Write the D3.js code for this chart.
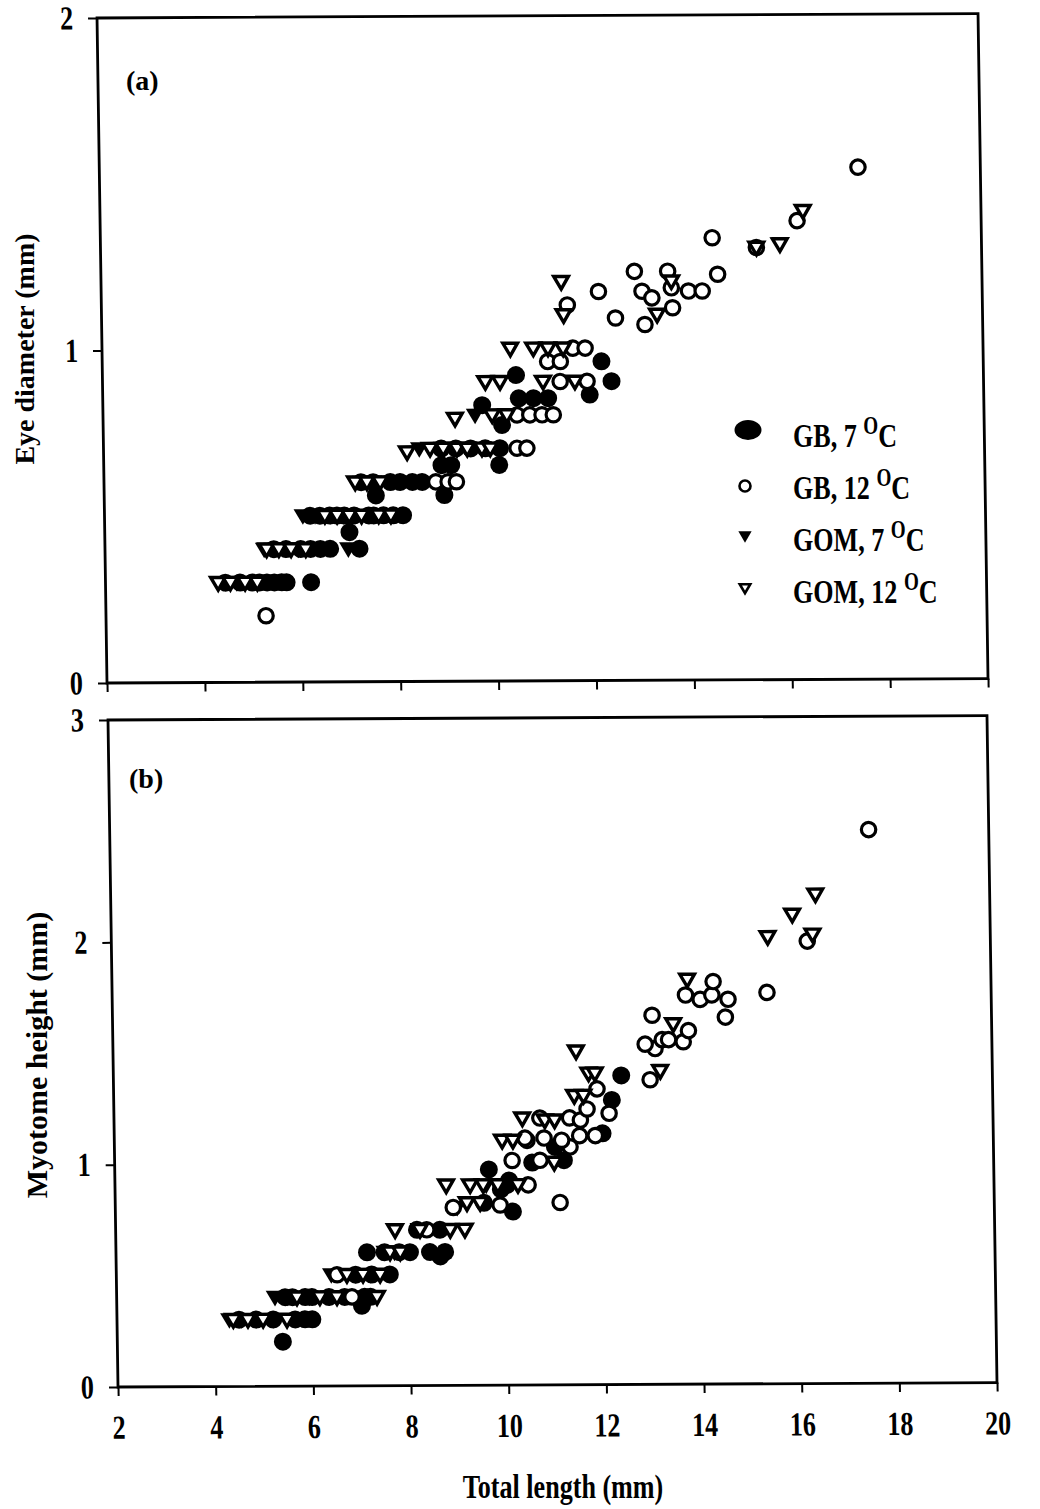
<!DOCTYPE html>
<html>
<head>
<meta charset="utf-8">
<script src="https://cdn.jsdelivr.net/npm/d3@7"></script>
<style>
  body { margin: 0; background: #fff; }
  svg { display: block; }
</style>
</head>
<body>
<div id="chart"></div>
<script>
// Axis ticks
var xTicks = [2, 4, 6, 8, 10, 12, 14, 16, 18, 20];
var yTicksEye = [0, 1, 2];
var yTicksMyo = [0, 1, 2, 3];

// Legend
var seriesLabels = ["GB, 7 ", "GB, 12 ", "GOM, 7 ", "GOM, 12 "];

// (a) Eye diameter (mm) vs total length (mm)
var eyeGB7 = [
    [4.45,0.3],[4.75,0.3],[5.0,0.3],
    [5.15,0.3],[5.3,0.3],[5.45,0.3],[5.6,0.3],[5.7,0.3],[6.2,0.3],
    [5.45,0.4],[5.7,0.4],[6.0,0.4],
    [6.2,0.4],[6.4,0.4],[6.6,0.4],[7.2,0.4],[7.0,0.45],
    [6.4,0.5],[6.75,0.5],[7.1,0.5],[7.5,0.5],
    [6.2,0.5],[6.6,0.5],[6.9,0.5],[7.4,0.5],[7.7,0.5],[7.9,0.5],[8.1,0.5],
    [7.55,0.56],[8.95,0.56],
    [7.25,0.6],[7.5,0.6],
    [7.85,0.6],[8.05,0.6],[8.3,0.6],[8.5,0.6],
    [8.9,0.65],[9.1,0.65],[10.08,0.65],
    [8.9,0.7],[9.2,0.7],[9.5,0.7],[9.8,0.7],[10.1,0.7],
    [10.15,0.77],[9.75,0.83],
    [10.5,0.85],[10.8,0.85],[11.1,0.85],
    [10.45,0.92],[11.95,0.86],[12.4,0.9],[12.2,0.96]
];
var eyeGB12 = [
    [5.27,0.2],
    [8.78,0.6],[9.03,0.6],[9.2,0.6],
    [10.45,0.7],[10.65,0.7],
    [10.46,0.8],[10.72,0.8],[10.97,0.8],[11.2,0.8],
    [11.35,0.9],[11.9,0.9],
    [11.1,0.96],[11.36,0.96],
    [11.62,1.0],[11.87,1.0],
    [11.52,1.13],[12.16,1.17],[12.5,1.09],
    [12.9,1.23],[13.05,1.17],[13.1,1.07],[13.25,1.15],[13.58,1.23],[13.65,1.18],[13.67,1.12],
    [14.0,1.17],[14.28,1.17],[14.5,1.33],[14.6,1.22],
    [15.4,1.3],[16.24,1.38],[17.5,1.54]
];
var eyeGOM7 = [
    [4.4,0.3],[4.68,0.3],[4.97,0.3],
    [5.25,0.4],[5.42,0.4],[5.68,0.4],[5.95,0.4],[6.97,0.4],
    [6.05,0.5],[6.3,0.5],[6.62,0.5],[6.88,0.5],[7.12,0.5],[7.45,0.5],
    [7.25,0.6],[7.5,0.6],[8.45,0.7],[9.6,0.8]
];
var eyeGOM12 = [
    [4.3,0.3],[4.55,0.3],[4.85,0.3],[5.1,0.3],
    [5.3,0.4],[5.55,0.4],[5.8,0.4],[6.1,0.4],
    [6.5,0.5],[6.75,0.5],[7.0,0.5],[7.25,0.5],[7.6,0.5],[7.85,0.5],
    [7.13,0.6],[7.37,0.6],[7.64,0.6],
    [8.2,0.69],[8.67,0.7],[8.94,0.7],[9.22,0.7],[9.43,0.7],[9.73,0.7],[9.9,0.7],
    [9.19,0.79],[9.95,0.8],[10.25,0.8],
    [9.82,0.9],[10.12,0.9],[11.0,0.9],[11.65,0.9],
    [10.34,1.0],[10.81,1.0],[11.11,1.0],[11.42,1.0],
    [11.44,1.1],[11.4,1.2],[13.35,1.1],[13.65,1.2],
    [15.4,1.3],[15.88,1.31],[16.36,1.41]
];

// (b) Myotome height (mm) vs total length (mm)
var myoGB7 = [
    [5.39,0.2],
    [4.5,0.3],[4.85,0.3],[5.2,0.3],
    [5.65,0.3],[5.85,0.3],[6.0,0.3],
    [5.6,0.4],[6.0,0.4],[6.35,0.4],[7.2,0.4],
    [5.45,0.4],[5.86,0.4],[6.67,0.4],[7.08,0.4],[7.02,0.36],
    [6.9,0.5],[7.23,0.5],[7.6,0.5],
    [7.5,0.6],[7.8,0.6],
    [7.14,0.6],[8.02,0.6],[8.43,0.6],[8.74,0.6],[8.64,0.58],
    [8.17,0.7],[8.64,0.7],
    [9.55,0.82],[9.9,0.88],
    [10.14,0.78],[10.03,0.9],[10.07,0.92],[9.66,0.97],
    [10.55,1.0],[11.2,1.01],[11.02,1.07],
    [12.0,1.13],[12.2,1.28],[12.4,1.39]
];
var myoGB12 = [
    [6.52,0.5],[6.82,0.4],
    [8.37,0.7],[8.92,0.8],[9.88,0.81],[11.11,0.82],
    [10.46,0.9],
    [10.14,1.01],[10.71,1.01],[11.33,1.07],
    [10.45,1.1],[11.16,1.1],[10.41,1.11],[10.8,1.11],
    [11.53,1.12],[11.85,1.12],
    [10.72,1.2],[11.33,1.2],[11.55,1.19],
    [11.69,1.24],[12.14,1.22],
    [11.9,1.33],[12.99,1.37],
    [13.1,1.51],[12.9,1.53],[13.25,1.55],[13.38,1.55],[13.68,1.54],[13.79,1.59],
    [13.05,1.66],[14.55,1.65],
    [14.04,1.73],[14.61,1.73],[14.28,1.75],[13.74,1.75],[14.31,1.81],
    [15.41,1.76],[16.25,1.99],[17.54,2.49]
];
var myoGOM7 = [
    [4.3,0.3],[4.55,0.3],[4.85,0.3],[5.2,0.3],
    [5.24,0.4],[5.5,0.4],[5.95,0.4],[6.35,0.4],[6.95,0.4],
    [6.4,0.5],[6.9,0.5],[7.2,0.5],
    [7.5,0.6],[7.7,0.6],[9.0,0.8],[9.6,0.9]
];
var myoGOM12 = [
    [4.38,0.3],[4.68,0.3],[4.99,0.3],[5.48,0.3],
    [5.69,0.4],[6.16,0.4],[6.51,0.4],[7.33,0.4],
    [6.72,0.5],[7.05,0.5],[7.4,0.5],
    [7.61,0.6],[7.82,0.6],
    [7.72,0.7],[8.23,0.7],[8.85,0.7],[9.15,0.7],
    [9.2,0.82],[9.47,0.82],
    [8.78,0.9],[9.27,0.9],[9.54,0.9],[9.84,0.9],[10.25,0.9],
    [11.0,1.0],
    [9.94,1.1],[10.16,1.1],
    [10.36,1.2],[10.82,1.19],[11.02,1.19],
    [11.43,1.3],[11.62,1.3],
    [11.73,1.4],[11.86,1.4],[13.2,1.41],
    [11.48,1.5],[13.48,1.62],[13.78,1.82],
    [15.44,2.01],[16.36,2.02],[15.95,2.11],[16.43,2.2]
];


var W = 1040, H = 1509;
var FONT = "'Liberation Serif', 'Times New Roman', Times, serif";
var TEXT_SCALE = "scale(0.87,1.12)";   // scanned type is tall and narrow
var SKEW_X = 0.015, SKEW_Y = -0.005;   // the scanned page is slightly tilted

var svg = d3.select("#chart").append("svg")
    .attr("width", W)
    .attr("height", H);

svg.append("rect").attr("width", W).attr("height", H).attr("fill", "#fff");


//Downward triangle, roughly centred
function triangle(s) {
    return "M" + (-7*s) + "," + (-5*s) + "L" + (7*s) + "," + (-5*s) + "L0," + (7*s) + "Z";
}

function label(parent, x, y, str, size, anchor) {
    return parent.append("text")
        .attr("transform", "translate(" + x + "," + y + ") " + TEXT_SCALE)
        .attr("text-anchor", anchor || "start")
        .attr("font-family", FONT)
        .attr("font-weight", "bold")
        .attr("font-size", size)
        .attr("fill", "#000")
        .text(str);
}


function panel(opts) {
    var w = opts.right - opts.left;
    var h = opts.bottom - opts.top;

    var g = svg.append("g")
        .attr("transform", "matrix(1," + SKEW_Y + "," + SKEW_X + ",1," + opts.left + "," + opts.bottom + ") translate(0," + (-h) + ")");

    var x = d3.scaleLinear().domain([2, 20]).range([0, w]);
    var y = d3.scaleLinear().domain([0, opts.yMax]).range([h, 0]);

    //Axes
    var gx = g.append("g")
        .attr("transform", "translate(0," + h + ")")
        .call(d3.axisBottom(x)
            .tickValues(xTicks)
            .tickSize(9)
            .tickFormat(opts.xLabels ? d3.format("d") : function() { return ""; }));

    var gy = g.append("g")
        .call(d3.axisLeft(y)
            .tickValues(opts.yTicks)
            .tickSize(9)
            .tickFormat(d3.format("d")));

    [gx, gy].forEach(function(a) {
        a.select(".domain").remove();
        a.selectAll("line").attr("stroke", "#000").attr("stroke-width", 2);
        a.selectAll("text")
            .attr("font-family", FONT)
            .attr("font-weight", "bold")
            .attr("font-size", 30)
            .attr("fill", "#000")
            .attr("transform", TEXT_SCALE);
    });
    gx.selectAll("text").attr("y", 25);
    gy.selectAll("text").attr("x", -24 / 0.87);

    //Frame
    g.append("rect")
        .attr("width", w)
        .attr("height", h)
        .attr("fill", "none")
        .attr("stroke", "#000")
        .attr("stroke-width", 2.8);

    //Points: filled ones first, open ones drawn over them
    g.append("g").selectAll("path").data(opts.gom7).join("path")
        .attr("transform", function(d) { return "translate(" + x(d[0]) + "," + y(d[1]) + ")"; })
        .attr("d", triangle(1.3))
        .attr("fill", "#000");

    g.append("g").selectAll("circle").data(opts.gb7).join("circle")
        .attr("cx", function(d) { return x(d[0]); })
        .attr("cy", function(d) { return y(d[1]); })
        .attr("r", 9)
        .attr("fill", "#000");

    g.append("g").selectAll("circle").data(opts.gb12).join("circle")
        .attr("cx", function(d) { return x(d[0]); })
        .attr("cy", function(d) { return y(d[1]); })
        .attr("r", 7.2)
        .attr("fill", "#fff")
        .attr("stroke", "#000")
        .attr("stroke-width", 3.2);

    g.append("g").selectAll("path").data(opts.gom12).join("path")
        .attr("transform", function(d) { return "translate(" + x(d[0]) + "," + y(d[1]) + ")"; })
        .attr("d", triangle(1.05))
        .attr("fill", "#fff")
        .attr("stroke", "#000")
        .attr("stroke-width", 3.4)
        .attr("stroke-linejoin", "miter");

    return g;
}


panel({left: 107, right: 988, top: 18, bottom: 683, yMax: 2, yTicks: yTicksEye, xLabels: false,
       gb7: eyeGB7, gb12: eyeGB12, gom7: eyeGOM7, gom12: eyeGOM12});

panel({left: 118, right: 997, top: 720, bottom: 1387, yMax: 3, yTicks: yTicksMyo, xLabels: true,
       gb7: myoGB7, gb12: myoGB12, gom7: myoGOM7, gom12: myoGOM12});


//Panel letters
svg.append("text").attr("x", 126).attr("y", 90)
    .attr("font-family", FONT).attr("font-weight", "bold").attr("font-size", 28).text("(a)");
svg.append("text").attr("x", 129).attr("y", 788)
    .attr("font-family", FONT).attr("font-weight", "bold").attr("font-size", 28).text("(b)");


//Axis titles
label(svg, 563, 1498, "Total length (mm)", 30, "middle");

svg.append("text")
    .attr("transform", "translate(34,349) rotate(-90)")
    .attr("text-anchor", "middle")
    .attr("font-family", FONT).attr("font-weight", "bold").attr("font-size", 28)
    .text("Eye diameter (mm)");

svg.append("text")
    .attr("transform", "translate(47,1055) rotate(-90)")
    .attr("text-anchor", "middle")
    .attr("font-family", FONT).attr("font-weight", "bold").attr("font-size", 30)
    .text("Myotome height (mm)");


//Legend (inside panel a)
var legX = 747, legTextX = 793;
var legRows = [447, 499, 551, 603];
var leg = svg.append("g");

leg.append("ellipse").attr("cx", legX + 1).attr("cy", legRows[0] - 17)
    .attr("rx", 13.5).attr("ry", 10).attr("fill", "#000");
leg.append("circle").attr("cx", legX - 2).attr("cy", legRows[1] - 13)
    .attr("r", 5.5).attr("fill", "#fff").attr("stroke", "#000").attr("stroke-width", 2.6);
leg.append("path").attr("transform", "translate(" + (legX - 2) + "," + (legRows[2] - 15) + ")")
    .attr("d", triangle(0.95)).attr("fill", "#000");
leg.append("path").attr("transform", "translate(" + (legX - 2) + "," + (legRows[3] - 15) + ")")
    .attr("d", triangle(0.75)).attr("fill", "#fff").attr("stroke", "#000").attr("stroke-width", 2.6);

seriesLabels.forEach(function(s, i) {
    var t = label(leg, legTextX, legRows[i], s, 30, "start");
    t.append("tspan").attr("font-size", 22).attr("dy", -12).text("O");
    t.append("tspan").attr("dy", 12).text("C");
});
</script>
</body>
</html>
